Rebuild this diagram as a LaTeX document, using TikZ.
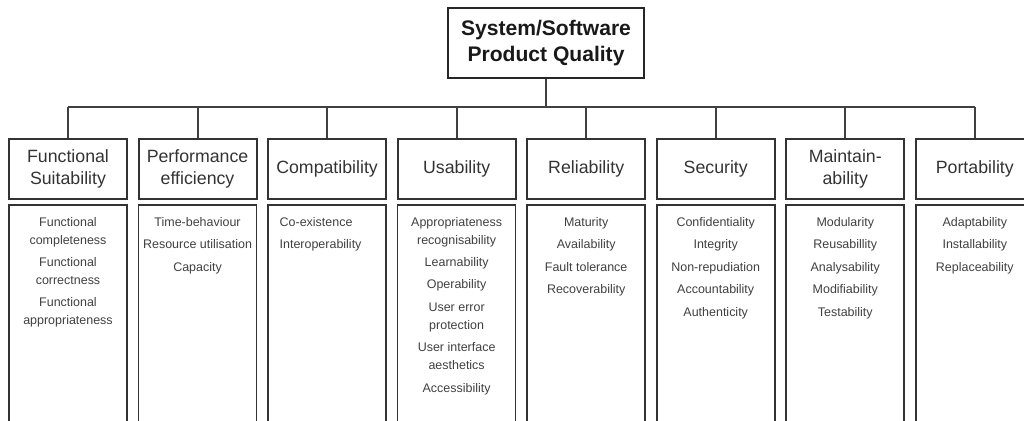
\documentclass[tikz,border=0pt]{standalone}
\usepackage{fontspec}
\setmainfont{Liberation Sans}
\usetikzlibrary{positioning}

\begin{document}
\begin{tikzpicture}
  [
  x=0.02cm, y=-0.02cm, node distance = 2.5914cm, on grid,
  top box/.style={draw=black!85, line width=0.8pt, minimum width=3.92cm, minimum height=1.4cm,
                  align=center, font=\fontsize{12}{14.5}\selectfont\bfseries, text=black!90},
  cat box/.style={draw=black!80, line width=1.1pt, minimum width=2.36cm, minimum height=1.2cm,
                  align=center, font=\fontsize{10.1}{12.5}\selectfont, text=black!80},
  sub box/.style={draw=black!80, line width=0.9pt, minimum width=2.36cm, minimum height=5cm},
  items/.style={anchor=north, align=center, inner sep=0pt, yshift=-0.25cm,
                font=\fontsize{7.1}{10.2}\selectfont, text=black!75},
  link/.style={draw=black!75, line width=1.1pt}
  ]
  \clip (0,0) rectangle (1024,421);

  \node[top box]                  (q)    at (546,43)         {System/Software\\Product Quality};
  \node[cat box]                  (fs)   at (68,169)         {Functional\\Suitability};
  \node[cat box]                  (pe)   [right=of fs]       {Performance\\efficiency};
  \node[cat box]                  (co)   [right=of pe]       {Compatibility};
  \node[cat box]                  (us)   [right=of co]       {Usability};
  \node[cat box]                  (re)   [right=of us]       {Reliability};
  \node[cat box]                  (se)   [right=of re]       {Security};
  \node[cat box]                  (ma)   [right=of se]       {Maintain-\\ability};
  \node[cat box]                  (po)   [right=of ma]       {Portability};

  \node[sub box]                  (fs')  [below=3.22cm of fs]  {};
  \node[sub box]                  (pe')  [below=3.22cm of pe]  {};
  \node[sub box]                  (co')  [below=3.22cm of co]  {};
  \node[sub box]                  (us')  [below=3.22cm of us]  {};
  \node[sub box]                  (re')  [below=3.22cm of re]  {};
  \node[sub box]                  (se')  [below=3.22cm of se]  {};
  \node[sub box]                  (ma')  [below=3.22cm of ma]  {};
  \node[sub box]                  (po')  [below=3.22cm of po]  {};

  \node[items] (fst) at (fs'.north) {Functional\\completeness\\[2.6pt]Functional\\correctness\\[2.6pt]Functional\\appropriateness};
  \node[items] (pet) at (pe'.north) {Time-behaviour\\[2.6pt]Resource utilisation\\[2.6pt]Capacity};
  \node[items, align=left, anchor=north west] (cot) at ([xshift=0.24cm]co'.north west) {Co-existence\\[2.6pt]Interoperability};
  \node[items] (ust) at (us'.north) {Appropriateness\\recognisability\\[2.6pt]Learnability\\[2.6pt]Operability\\[2.6pt]User error\\protection\\[2.6pt]User interface\\aesthetics\\[2.6pt]Accessibility};
  \node[items] (ret) at (re'.north) {Maturity\\[2.6pt]Availability\\[2.6pt]Fault tolerance\\[2.6pt]Recoverability};
  \node[items] (set) at (se'.north) {Confidentiality\\[2.6pt]Integrity\\[2.6pt]Non-repudiation\\[2.6pt]Accountability\\[2.6pt]Authenticity};
  \node[items] (mat) at (ma'.north) {Modularity\\[2.6pt]Reusabillity\\[2.6pt]Analysability\\[2.6pt]Modifiability\\[2.6pt]Testability};
  \node[items] (pot) at (po'.north) {Adaptability\\[2.6pt]Installability\\[2.6pt]Replaceability};

  % bus line
  \coordinate (bus) at (546,107);
  \draw[link] (q.south) -- (bus);
  \draw[link] (fs.north |- bus) -- (po.north |- bus);
  \draw[link] (fs.north) -- (fs.north |- bus);
  \draw[link] (pe.north) -- (pe.north |- bus);
  \draw[link] (co.north) -- (co.north |- bus);
  \draw[link] (us.north) -- (us.north |- bus);
  \draw[link] (re.north) -- (re.north |- bus);
  \draw[link] (se.north) -- (se.north |- bus);
  \draw[link] (ma.north) -- (ma.north |- bus);
  \draw[link] (po.north) -- (po.north |- bus);
\end{tikzpicture}
\end{document}
